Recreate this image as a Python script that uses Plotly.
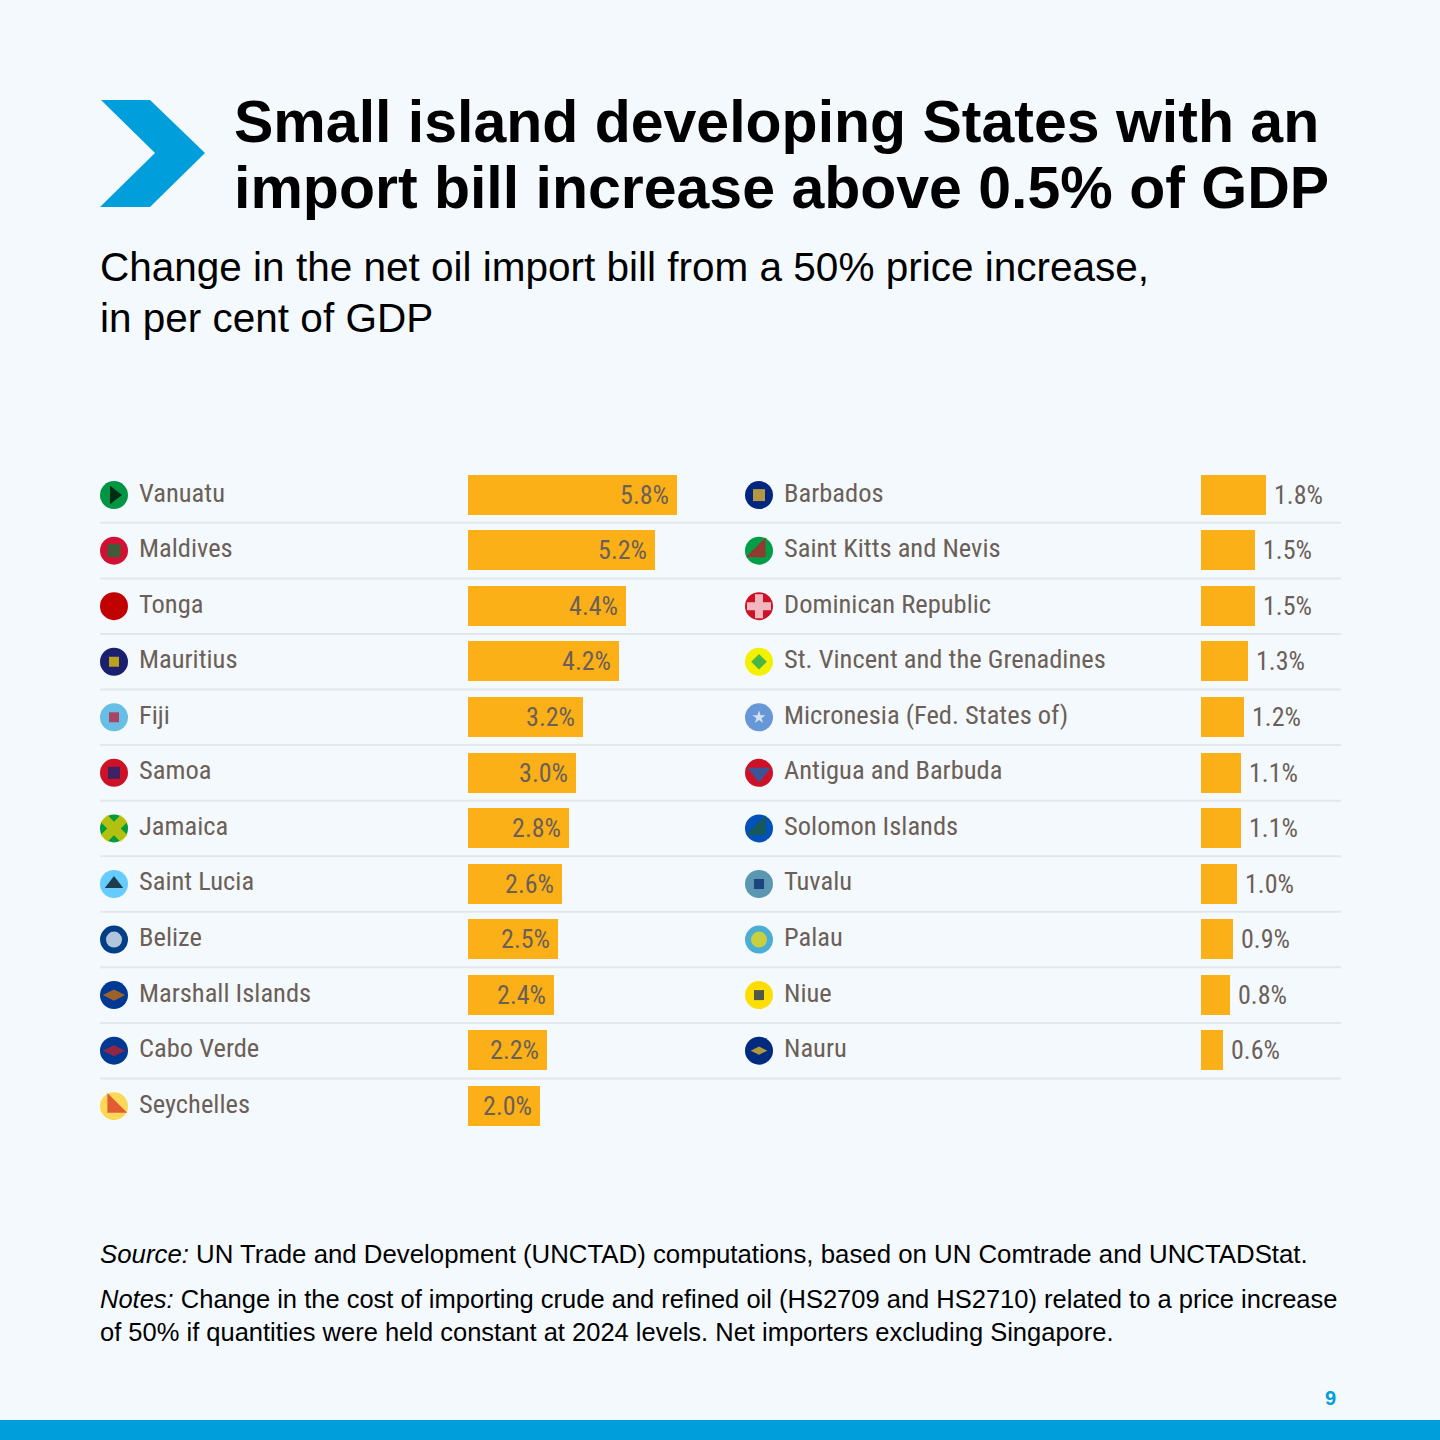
import plotly.graph_objects as go

# ---------------- data ----------------
left_countries = ["Vanuatu", "Maldives", "Tonga", "Mauritius", "Fiji", "Samoa", "Jamaica",
                  "Saint Lucia", "Belize", "Marshall Islands", "Cabo Verde", "Seychelles"]
left_values = [5.8, 5.2, 4.4, 4.2, 3.2, 3.0, 2.8, 2.6, 2.5, 2.4, 2.2, 2.0]

right_countries = ["Barbados", "Saint Kitts and Nevis", "Dominican Republic",
                   "St. Vincent and the Grenadines", "Micronesia (Fed. States of)",
                   "Antigua and Barbuda", "Solomon Islands", "Tuvalu", "Palau", "Niue", "Nauru"]
right_values = [1.8, 1.5, 1.5, 1.3, 1.2, 1.1, 1.1, 1.0, 0.9, 0.8, 0.6]

title_lines = ["Small island developing States with an", "import bill increase above 0.5% of GDP"]
subtitle_lines = ["Change in the net oil import bill from a 50% price increase,", "in per cent of GDP"]
source_text = "<i>Source:</i> UN Trade and Development (UNCTAD) computations, based on UN Comtrade and UNCTADStat."
notes_lines = ["<i>Notes:</i> Change in the cost of importing crude and refined oil (HS2709 and HS2710) related to a price increase",
               "of 50% if quantities were held constant at 2024 levels. Net importers excluding Singapore."]
page_number = "9"

# flag styling (base colour, accent symbol, accent colour, accent size)
left_flags = [
    ("#009543", "triangle-right", "#000000", 16),
    ("#d21034", "square", "#007e3a", 13),
    ("#c10000", "square", "#ffffff", 0),
    ("#1a206d", "square", "#ffd500", 10),
    ("#68bfe5", "square", "#c8102e", 10),
    ("#ce1126", "square", "#002b7f", 12),
    ("#009b3a", "x", "#fed100", 24),
    ("#66ccff", "triangle-up", "#000000", 16),
    ("#003f87", "circle", "#ffffff", 16),
    ("#003893", "diamond-wide", "#dd7500", 16),
    ("#003893", "diamond-wide", "#cf2027", 16),
    ("#fcd856", "triangle-sw", "#d62828", 22),
]
right_flags = [
    ("#00267f", "square", "#ffc726", 12),
    ("#009e49", "triangle-se", "#ce1126", 22),
    ("#ce1126", "cross", "#ffffff", 20),
    ("#f4f100", "diamond", "#009e60", 12),
    ("#6797d6", "star", "#ffffff", 10),
    ("#ce1126", "triangle-down", "#0072c6", 20),
    ("#0051ba", "triangle-se", "#215b33", 22),
    ("#5b97b1", "square", "#012169", 10),
    ("#4aadd6", "circle", "#ffde00", 16),
    ("#fedd00", "square", "#012169", 10),
    ("#002b7f", "diamond-wide", "#ffc61e", 12),
]

# ---------------- style ----------------
W = H = 1440
BG = "#f4f9fd"
BAR = "#fbb017"
TXT = "#6b5f58"
BLUE = "#009edb"
COND = "Roboto Condensed, Liberation Sans Narrow, DejaVu Sans Condensed, sans-serif"
SANS = "Liberation Sans, Arial, Helvetica, sans-serif"
PAD = "\u2009"


def px(x):
    return x / W


def py(y):
    return 1 - y / H


row_top, row_bot = 467.3, 1134.0
n_rows = len(left_countries)

fig = go.Figure()

fig.add_trace(go.Bar(
    x=left_values, y=list(range(len(left_values))), orientation="h",
    marker=dict(color=BAR, line_width=0), width=0.72,
    text=[f"{v:.1f}%{PAD}" for v in left_values], textposition="inside",
    insidetextanchor="end", textangle=0, constraintext="none",
    textfont=dict(family=COND, size=26, color=TXT),
    xaxis="x", yaxis="y", hoverinfo="skip", showlegend=False,
))
fig.add_trace(go.Bar(
    x=right_values, y=list(range(len(right_values))), orientation="h",
    marker=dict(color=BAR, line_width=0), width=0.72,
    text=[f"{PAD}{v:.1f}%" for v in right_values], textposition="outside",
    textangle=0, constraintext="none", cliponaxis=False,
    textfont=dict(family=COND, size=26, color=TXT),
    xaxis="x2", yaxis="y2", hoverinfo="skip", showlegend=False,
))

# flags
for flags, xpos, cnt in [(left_flags, 114, len(left_countries)), (right_flags, 759, len(right_countries))]:
    ys = list(range(cnt))
    fig.add_trace(go.Scatter(
        x=[xpos] * cnt, y=ys, mode="markers", xaxis="x3", yaxis="y",
        marker=dict(symbol="circle", size=28, color=[f[0] for f in flags], line_width=0),
        hoverinfo="skip", showlegend=False, cliponaxis=False,
    ))
    fig.add_trace(go.Scatter(
        x=[xpos] * cnt, y=ys, mode="markers", xaxis="x3", yaxis="y",
        marker=dict(symbol=[f[1] for f in flags], size=[f[3] for f in flags],
                    color=[f[2] for f in flags], line_width=0),
        hoverinfo="skip", showlegend=False, cliponaxis=False,
    ))

annotations = []
for i, c in enumerate(left_countries):
    annotations.append(dict(x=px(137), y=i, xref="paper", yref="y", text=c, showarrow=False,
                            xanchor="left", yanchor="middle", yshift=3,
                            font=dict(family=COND, size=26.5, color=TXT)))
for i, c in enumerate(right_countries):
    annotations.append(dict(x=px(782), y=i, xref="paper", yref="y", text=c, showarrow=False,
                            xanchor="left", yanchor="middle", yshift=3,
                            font=dict(family=COND, size=26.5, color=TXT)))

# titles
for line, yc in zip(title_lines, [122, 188]):
    annotations.append(dict(x=px(232), y=py(yc), xref="paper", yref="paper", text=f"<b>{line}</b>",
                            showarrow=False, xanchor="left", yanchor="middle",
                            font=dict(family=SANS, size=59, color="#000000")))
for line, yc in zip(subtitle_lines, [267, 318]):
    annotations.append(dict(x=px(98), y=py(yc), xref="paper", yref="paper", text=line,
                            showarrow=False, xanchor="left", yanchor="middle",
                            font=dict(family=SANS, size=40.5, color="#000000")))
annotations.append(dict(x=px(98), y=py(1254), xref="paper", yref="paper", text=source_text,
                        showarrow=False, xanchor="left", yanchor="middle",
                        font=dict(family=SANS, size=25.8, color="#000000")))
for line, yc in zip(notes_lines, [1299, 1332]):
    annotations.append(dict(x=px(98), y=py(yc), xref="paper", yref="paper", text=line,
                            showarrow=False, xanchor="left", yanchor="middle",
                            font=dict(family=SANS, size=25.5, color="#000000")))
annotations.append(dict(x=px(1330), y=py(1398), xref="paper", yref="paper", text=f"<b>{page_number}</b>",
                        showarrow=False, xanchor="center", yanchor="middle",
                        font=dict(family=SANS, size=20, color=BLUE)))

shapes = []
# chevron
pts = [(101, 100), (150, 100), (205, 153), (150, 207), (100, 207), (155, 153)]
path = "M " + " L ".join(f"{px(x)},{py(y)}" for x, y in pts) + " Z"
shapes.append(dict(type="path", xref="paper", yref="paper", path=path,
                   fillcolor=BLUE, line_width=0, layer="below"))
# bottom band
shapes.append(dict(type="rect", xref="paper", yref="paper", x0=0, x1=1, y0=0, y1=py(1420),
                   fillcolor=BLUE, line_width=0, layer="below"))
# separators
for i in range(len(right_countries)):
    shapes.append(dict(type="line", xref="paper", yref="y", x0=px(100), x1=px(1341),
                       y0=i + 0.5, y1=i + 0.5, line=dict(color="#e2e8ee", width=2), layer="below"))

ydom = [py(row_bot), py(row_top)]
yrng = [n_rows - 0.5, -0.5]
scale = 36.0

fig.update_layout(
    width=W, height=H, margin=dict(l=0, r=0, t=0, b=0),
    paper_bgcolor=BG, plot_bgcolor="rgba(0,0,0,0)",
    annotations=annotations, shapes=shapes, bargap=0,
    xaxis=dict(domain=[px(468), px(713)], range=[0, (713 - 468) / scale], visible=False, anchor="y"),
    xaxis2=dict(domain=[px(1201), px(1341)], range=[0, (1341 - 1201) / scale], visible=False, anchor="y2"),
    xaxis3=dict(domain=[0, 1], range=[0, W], visible=False, anchor="y"),
    yaxis=dict(domain=ydom, range=yrng, visible=False, anchor="x"),
    yaxis2=dict(domain=ydom, range=yrng, visible=False, anchor="x2"),
)

fig.write_html("out.html", config={"displayModeBar": False},
               post_script="document.body.style.margin='0px';")
